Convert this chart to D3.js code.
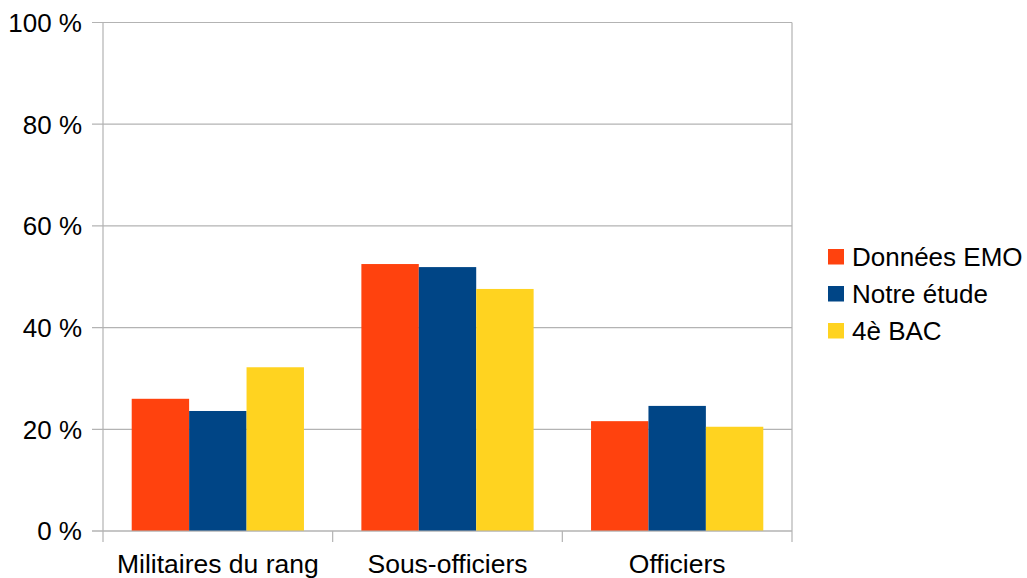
<!DOCTYPE html>
<html>
<head>
<meta charset="utf-8">
<script src="https://cdn.jsdelivr.net/npm/d3@7"></script>
<style>
  body { margin: 0; background: #fff; }
  text { font-family: "Liberation Sans", Arial, sans-serif; fill: #000; }
</style>
</head>
<body>
<div id="chart"></div>
<script>
var categories = ["Militaires du rang", "Sous-officiers", "Officiers"];
var series = ["Données EMO", "Notre étude", "4è BAC"];
var donneesEmo = [26.0, 52.5, 21.6];
var notreEtude = [23.6, 51.9, 24.6];
var bac4 = [32.2, 47.6, 20.5];
var yTicks = [0, 20, 40, 60, 80, 100];
var colors = ["#ff420e", "#004586", "#ffd320"];

var values = [donneesEmo, notreEtude, bac4];

var width = 1027, height = 578;
var margin = {left: 103, right: 235, top: 22.5, bottom: 47};
var plotW = width - margin.left - margin.right;
var plotH = height - margin.top - margin.bottom;

var svg = d3.select("#chart").append("svg")
    .attr("width", width)
    .attr("height", height);

var g = svg.append("g")
    .attr("transform", "translate(" + margin.left + "," + margin.top + ")");

var x0 = d3.scaleBand()
    .domain(categories)
    .range([0, plotW])
    .padding(0);

// bars fill the middle 75% of each category
var x1 = d3.scaleBand()
    .domain(series)
    .range([x0.bandwidth() * 0.125, x0.bandwidth() * 0.875])
    .padding(0);

var y = d3.scaleLinear()
    .domain([0, 100])
    .range([plotH, 0]);

// horizontal grid lines + y ticks
g.selectAll(".grid")
    .data(yTicks)
  .enter().append("line")
    .attr("class", "grid")
    .attr("x1", -11)
    .attr("x2", plotW)
    .attr("y1", function(d) { return y(d); })
    .attr("y2", function(d) { return y(d); })
    .attr("stroke", "#b3b3b3")
    .attr("stroke-width", 1.2);

g.selectAll(".ylabel")
    .data(yTicks)
  .enter().append("text")
    .attr("class", "ylabel")
    .attr("x", -21)
    .attr("y", function(d) { return y(d); })
    .attr("dy", "0.36em")
    .attr("text-anchor", "end")
    .style("font-size", "26px")
    .text(function(d) { return d + " %"; });

// vertical frame lines
g.append("line")
    .attr("x1", 0).attr("x2", 0)
    .attr("y1", 0).attr("y2", plotH + 11)
    .attr("stroke", "#b3b3b3").attr("stroke-width", 1.2);
g.append("line")
    .attr("x1", plotW).attr("x2", plotW)
    .attr("y1", 0).attr("y2", plotH + 11)
    .attr("stroke", "#b3b3b3").attr("stroke-width", 1.2);

// category separators on x axis
g.selectAll(".xtick")
    .data(categories.slice(1))
  .enter().append("line")
    .attr("class", "xtick")
    .attr("x1", function(d) { return x0(d); })
    .attr("x2", function(d) { return x0(d); })
    .attr("y1", plotH)
    .attr("y2", plotH + 11)
    .attr("stroke", "#b3b3b3").attr("stroke-width", 1.2);

// bars
var groups = g.selectAll(".cat")
    .data(categories)
  .enter().append("g")
    .attr("class", "cat")
    .attr("transform", function(d) { return "translate(" + x0(d) + ",0)"; });

groups.selectAll("rect")
    .data(function(d, i) {
        return series.map(function(s, j) { return {s: s, v: values[j][i], j: j}; });
    })
  .enter().append("rect")
    .attr("x", function(d) { return x1(d.s); })
    .attr("width", x1.bandwidth())
    .attr("y", function(d) { return y(d.v); })
    .attr("height", function(d) { return plotH - y(d.v); })
    .attr("fill", function(d) { return colors[d.j]; });

// x axis baseline over bars
g.append("line")
    .attr("x1", -11).attr("x2", plotW)
    .attr("y1", plotH).attr("y2", plotH)
    .attr("stroke", "#b3b3b3").attr("stroke-width", 1.2);

g.selectAll(".xlabel")
    .data(categories)
  .enter().append("text")
    .attr("class", "xlabel")
    .attr("x", function(d) { return x0(d) + x0.bandwidth() / 2; })
    .attr("y", plotH + 42)
    .attr("text-anchor", "middle")
    .style("font-size", "26.5px")
    .text(function(d) { return d; });

// legend
var legend = svg.append("g")
    .attr("transform", "translate(828,257)");

var items = legend.selectAll(".item")
    .data(series)
  .enter().append("g")
    .attr("class", "item")
    .attr("transform", function(d, i) { return "translate(0," + (i * 37) + ")"; });

items.append("rect")
    .attr("x", 0)
    .attr("y", -8)
    .attr("width", 16)
    .attr("height", 15.5)
    .attr("fill", function(d, i) { return colors[i]; });

items.append("text")
    .attr("x", 24)
    .attr("y", 0)
    .attr("dy", "0.36em")
    .style("font-size", "26px")
    .text(function(d) { return d; });
</script>
</body>
</html>
